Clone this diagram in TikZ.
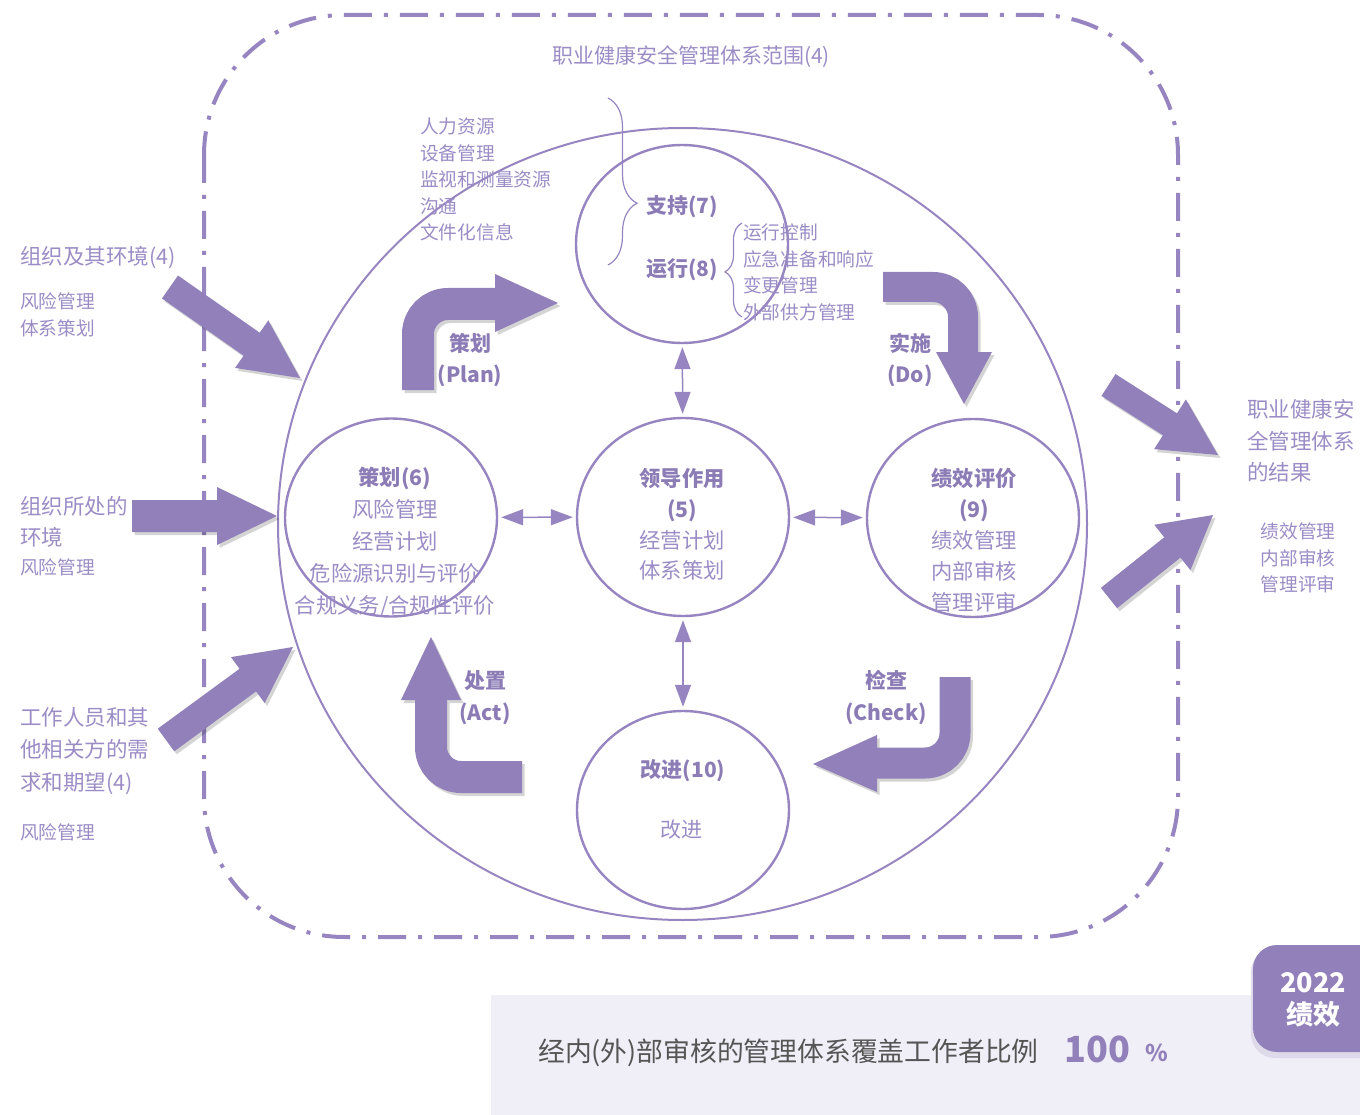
\documentclass[tikz,border=0pt]{standalone}
\usepackage{fontspec}
\setmainfont{Noto Sans CJK SC}
\usetikzlibrary{calc,shapes.geometric,arrows.meta,decorations.pathreplacing}
\definecolor{afill}{RGB}{145,128,185}
\definecolor{lcol}{RGB}{150,133,192}
\definecolor{txt}{RGB}{155,140,198}
\definecolor{btxt}{RGB}{140,124,182}
\definecolor{gtxt}{RGB}{85,85,85}
\definecolor{bgbox}{RGB}{240,238,247}
\definecolor{badgeedge}{RGB}{222,218,234}
\newcommand\fs[2]{\fontsize{#1}{#2}\selectfont}
\tikzset{
  shad/.style={black,opacity=.17,transform canvas={shift={(2.5pt,-3pt)}}},
  circ/.style={draw=lcol,line width=2.4pt,ellipse,minimum width=212pt,minimum height=198pt,inner sep=0pt},
  dbl/.style={draw=lcol,line width=1.5pt,{Triangle[length=22pt,width=16pt]}-{Triangle[length=22pt,width=16pt]},shorten >=3pt,shorten <=3pt},
  tn/.style={text=txt,inner sep=0pt,yshift=-1.5pt},
  bn/.style={text=btxt,inner sep=0pt,yshift=-1.5pt,font=\fs{21}{31}\bfseries,align=center},
  brc/.style={draw=lcol,line width=1.2pt,decorate},
}
% straight fat arrow: tail, tip, half body, half head, head length
\newcommand\fatarrow[5]{%
  \coordinate (fh) at ($(#2)!#5!(#1)$);
  \fill[shad] ($(#1)!#3!90:(#2)$) -- ($(fh)!#3!-90:(#1)$) -- ($(fh)!#4!-90:(#1)$) -- (#2) -- ($(fh)!#4!90:(#1)$) -- ($(fh)!#3!90:(#1)$) -- ($(#1)!#3!-90:(#2)$) -- cycle;
  \fill[afill] ($(#1)!#3!90:(#2)$) -- ($(fh)!#3!-90:(#1)$) -- ($(fh)!#4!-90:(#1)$) -- (#2) -- ($(fh)!#4!90:(#1)$) -- ($(fh)!#3!90:(#1)$) -- ($(#1)!#3!-90:(#2)$) -- cycle;
}
% bent fat arrow: stroke path, head polygon, width
\newcommand\bentarrow[3]{%
  \draw[shad,line width=#3,rounded corners=30pt] #1;
  \fill[shad] #2;
  \draw[afill,line width=#3,rounded corners=30pt] #1;
  \fill[afill] #2;
}
\begin{document}
\begin{tikzpicture}[x=1pt,y=-1pt]
\useasboundingbox (0,0) rectangle (1360,1115);

% scope boundary
\draw[lcol,line width=4pt,dash pattern=on 28pt off 12pt on 4pt off 12pt,rounded corners=140pt] (204,15) rectangle (1178,937);

% big ellipse
\node[draw=lcol,line width=2pt,ellipse,minimum width=809pt,minimum height=792pt,inner sep=0pt] (big) at (682.5,524) {};

% circles
\node[circ] (sup)  at (682,244) {};
\node[circ] (plan) at (391,517.5) {};
\node[circ] (lead) at (683,517) {};
\node[circ] (perf) at (973,518) {};
\node[circ] (impr) at (683,810) {};

% connectors
\draw[dbl] (sup) -- (lead);
\draw[dbl] (plan) -- (lead);
\draw[dbl] (lead) -- (perf);
\draw[dbl] (lead) -- (impr);

% braces
\draw[brc,decoration={brace,amplitude=29pt,aspect=0.63}] (608,98) -- (608,265);
\draw[brc,decoration={brace,amplitude=17pt,aspect=0.48}] (742,317) -- (742,223);

% texts
\node[tn,font=\fs{21}{26}] (title) at (691,55) {职业健康安全管理体系范围(4)};
\node[tn,font=\fs{18.7}{26.5},align=left,anchor=west] (suplist) at (420,178) {人力资源\\设备管理\\监视和测量资源\\沟通\\文件化信息};
\node[bn] (supt) at (682,205) {支持(7)};
\node[bn] (runt) at (682,268) {运行(8)};
\node[tn,font=\fs{18.7}{26.7},align=left,anchor=west] (runlist) at (743,271) {运行控制\\应急准备和响应\\变更管理\\外部供方管理};

\node[tn,font=\fs{21.3}{32},align=center] (plant) at (395,541) {\textbf{\color{btxt}策划(6)}\\风险管理\\经营计划\\危险源识别与评价\\合规义务/合规性评价};
\node[tn,font=\fs{21.3}{30.7},align=center] (leadt) at (682,523) {\textbf{\color{btxt}领导作用}\\\textbf{\color{btxt}(5)}\\经营计划\\体系策划};
\node[tn,font=\fs{21.3}{31},align=center] (perft) at (974,539) {\textbf{\color{btxt}绩效评价}\\\textbf{\color{btxt}(9)}\\绩效管理\\内部审核\\管理评审};
\node[bn] (imprt) at (683,769) {改进(10)};
\node[tn,font=\fs{21}{26}] (imprs) at (681,828) {改进};

\node[bn] (lplan) at (470,358.5) {策划\\(Plan)};
\node[bn] (ldo) at (910,358.5) {实施\\(Do)};
\node[bn,font=\fs{21}{32}\bfseries] (lact) at (485,696) {处置\\(Act)};
\node[bn,font=\fs{21}{32}\bfseries] (lcheck) at (886,696) {检查\\(Check)};

\node[tn,font=\fs{21.5}{31},anchor=west] (l1) at (20,256) {组织及其环境(4)};
\node[tn,font=\fs{18.7}{27},align=left,anchor=west] (l1s) at (20,313.5) {风险管理\\体系策划};
\node[tn,font=\fs{21.5}{31},align=left,anchor=west] (l2) at (20,520.5) {组织所处的\\环境};
\node[tn,font=\fs{18.7}{27},anchor=west] (l2s) at (20,566) {风险管理};
\node[tn,font=\fs{21.5}{32.5},align=left,anchor=west] (l3) at (20,749.5) {工作人员和其\\他相关方的需\\求和期望(4)};
\node[tn,font=\fs{18.7}{27},anchor=west] (l3s) at (20,831) {风险管理};

\node[tn,font=\fs{21.5}{31.5},align=left,anchor=west] (r1) at (1247,439.5) {职业健康安\\全管理体系\\的结果};
\node[tn,font=\fs{18.7}{26.5},align=center] (r1s) at (1298,556.5) {绩效管理\\内部审核\\管理评审};

% fat straight arrows
\fatarrow{170,287}{300,378}{14pt}{29pt}{59pt}
\fatarrow{132,516}{277,516}{16pt}{29pt}{60pt}
\fatarrow{166,740}{293,647}{14pt}{28.5pt}{56pt}
\fatarrow{1108.5,385}{1218,455}{13pt}{29.5pt}{57pt}
\fatarrow{1109,598}{1213,515}{13pt}{29pt}{52pt}

% bent arrows
\bentarrow{(418,390) -- (418,304) -- (495,304)}{(495,274) -- (558,303) -- (495,332) -- cycle}{32pt}
\bentarrow{(883,287) -- (963,287) -- (963,352)}{(936,352) -- (992,352) -- (964,404) -- cycle}{30pt}
\bentarrow{(955,677) -- (955,763) -- (877,763)}{(877,735) -- (813,764) -- (877,792) -- cycle}{31pt}
\bentarrow{(522,777) -- (431,777) -- (431,700)}{(401,700) -- (431,637) -- (461,700) -- cycle}{32pt}

% bottom panel
\fill[bgbox] (491,995) rectangle (1360,1115);
\node[inner sep=0pt,text=gtxt,font=\fs{26.8}{30},anchor=west] (stat) at (538,1053) {经内(外)部审核的管理体系覆盖工作者比例};
\node[inner sep=0pt,text=afill,font=\fs{36}{40}\bfseries,anchor=west] (num) at (1064,1049) {100};
\node[inner sep=0pt,text=afill,font=\fs{23}{26}\bfseries,anchor=west] (pct) at (1145,1053) {\%};

% badge
\fill[badgeedge,rounded corners=24pt] (1251,948) rectangle (1385,1058);
\fill[afill,rounded corners=24pt] (1253,945) rectangle (1385,1052);
\node[inner sep=0pt,text=white,font=\fs{27}{32}\bfseries,align=center] (badge) at (1313,1000) {2022\\绩效};
\end{tikzpicture}
\end{document}
